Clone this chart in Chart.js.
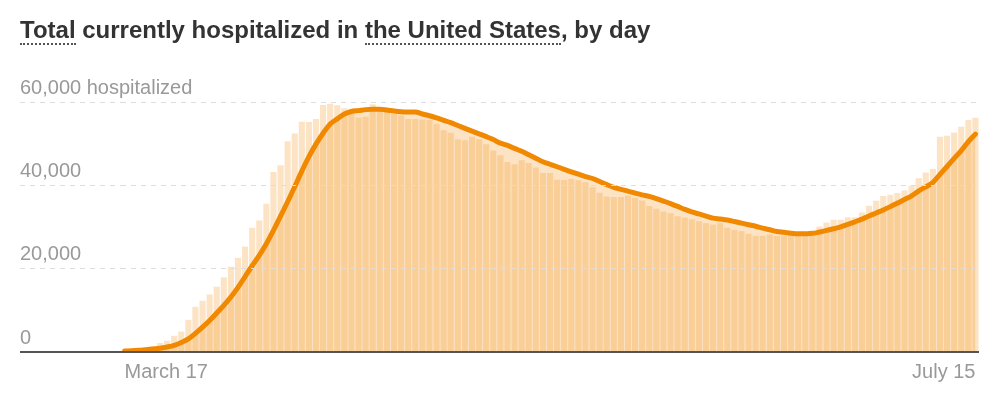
<!DOCTYPE html>
<html>
<head>
<meta charset="utf-8">
<script src="https://cdn.jsdelivr.net/npm/chart.js@4/dist/chart.umd.min.js"></script>
<style>
html,body{margin:0;padding:0;background:#fff;}
#wrap{position:relative;width:994px;height:398px;overflow:hidden;}
canvas{position:absolute;left:0;top:0;}
#title{position:absolute;left:20px;top:16px;font:bold 24px 'Liberation Sans',Arial,sans-serif;color:#333;white-space:nowrap;line-height:28px;}
#title .u{border-bottom:2px dotted #555;}
</style>
</head>
<body>
<div id="wrap">
<canvas id="c" width="994" height="398" style="width:994px;height:398px"></canvas>
<div id="title"><span class="u">Total</span> currently hospitalized in <span class="u">the United States</span>, by day</div>
</div>
<script>
// Daily total currently hospitalized (March 17 – July 15)
const hospitalized = [
  300, 420, 620, 1040, 1440, 2150, 2700, 3860, 4900, 7710,
  10840, 12290, 13800, 15660, 17900, 20480, 22580, 25300, 29800, 31570,
  35590, 43200, 44820, 50600, 52450, 55250, 55180, 55900, 59280, 59600,
  59200, 58480, 58400, 56310, 56470, 59440, 58480, 58070, 57110, 56790,
  55900, 55900, 55830, 55660, 54770, 53250, 52600, 51080, 50840, 51640,
  51080, 49880, 48360, 47230, 45620, 45060, 46000, 45380, 44260, 42970,
  42970, 41370, 41300, 41500, 41200, 40760, 39520, 38200, 37350, 37190,
  37190, 37590, 37000, 36390, 35020, 34380, 33730, 33330, 32610, 32210,
  31880, 31400, 30920, 30600, 30920, 29800, 29320, 29000, 28360, 27870,
  27870, 28190, 27870, 27870, 28030, 27870, 27870, 28360, 30120, 31080,
  31730, 31730, 32370, 32370, 33490, 35100, 36310, 37430, 37750, 38150,
  38790, 39880, 41700, 43100, 43900, 51640, 51880, 52690, 54050, 55660,
  56220
];
// 7-day average
const sevenDayAvg = [
  240, 310, 410, 530, 720, 890, 1200, 1610, 2290, 3130,
  4460, 5950, 7550, 9350, 11200, 13200, 15500, 18100, 20700, 23200,
  26000, 29200, 32600, 36050, 39690, 43400, 46900, 49880, 52500, 54700,
  55950, 57100, 57730, 57930, 58170, 58240, 58240, 58070, 57830, 57660,
  57610, 57590, 57130, 56700, 56190, 55610, 55040, 54350, 53670, 53010,
  52360, 51690, 50980, 50120, 49590, 48870, 48170, 47350, 46500, 45660,
  45060, 44460, 43850, 43250, 42670, 42100, 41640, 40910, 40170, 39490,
  39040, 38630, 38130, 37710, 37350, 36820, 36220, 35610, 34940, 34240,
  33610, 33130, 32630, 32120, 31900, 31660, 31320, 30940, 30550, 30170,
  29740, 29330, 28920, 28720, 28510, 28360, 28390, 28480, 28800, 29180,
  29570, 30020, 30630, 31250, 31880, 32650, 33370, 34100, 34890, 35760,
  36600, 37490, 38670, 39640, 40720, 42650, 44530, 46460, 48340, 50480,
  52290
];
const xTickLabels = ["March 17", "July 15"];
const yTickValues = [0, 20000, 40000, 60000];
const yTickLabels = ["0", "20,000", "40,000", "60,000 hospitalized"];

const monthNames = ["March", "April", "May", "June", "July"];
const monthFirst = [17, 1, 1, 1, 1];
const monthLast = [31, 30, 31, 30, 15];
const days = [];
for (let m = 0; m < monthNames.length; m++) {
  for (let d = monthFirst[m]; d <= monthLast[m]; d++) days.push(monthNames[m] + " " + d);
}

const fillColor = 'rgba(242,140,10,0.24)';
const isZero = c => !!(c && c.tick && c.tick.value === 0);
const gridColor = c => isZero(c) ? '#555555' : '#dddddd';
const gridWidth = c => isZero(c) ? 2 : 1;
const gridDash = c => isZero(c) ? [] : [5, 5];

Chart.defaults.font.family = "'Liberation Sans', Arial, sans-serif";

new Chart(document.getElementById('c'), {
  data: {
    labels: days,
    datasets: [
      {
        type: 'line', data: sevenDayAvg, borderColor: '#f08800', borderWidth: 5,
        backgroundColor: fillColor, fill: 'origin', pointRadius: 0,
        cubicInterpolationMode: 'monotone',
        borderCapStyle: 'round', borderJoinStyle: 'round', order: 0
      },
      {
        type: 'bar', data: hospitalized, backgroundColor: fillColor,
        barPercentage: 0.86, categoryPercentage: 1, order: 1
      }
    ]
  },
  options: {
    responsive: false, animation: false, devicePixelRatio: 1,
    layout: { padding: { left: 20, right: 15, top: 102, bottom: 6 } },
    plugins: { legend: { display: false }, tooltip: { enabled: false } },
    scales: {
      x: {
        offset: true,
        grid: { display: false, drawTicks: false },
        border: { display: false },
        ticks: {
          autoSkip: false, maxRotation: 0, minRotation: 0, align: 'inner', padding: 8,
          color: '#999', font: { size: 20 },
          callback: (v, i) => xTickLabels.includes(days[i]) ? days[i] : ''
        }
      },
      y: {
        min: 0, max: 60000,
        afterFit: s => { s.width = 101; },
        afterBuildTicks: s => { s.ticks = yTickValues.map(v => ({ value: v })); },
        border: { display: false, dash: gridDash },
        grid: {
          z: 1, color: gridColor, lineWidth: gridWidth,
          drawTicks: true, tickLength: 101, tickColor: gridColor, tickWidth: gridWidth,
          tickBorderDash: gridDash
        },
        ticks: {
          mirror: true, crossAlign: 'near', padding: -101, labelOffset: -14,
          color: '#999', font: { size: 20 },
          callback: v => yTickLabels[yTickValues.indexOf(v)]
        }
      }
    }
  }
});
</script>
</body>
</html>
